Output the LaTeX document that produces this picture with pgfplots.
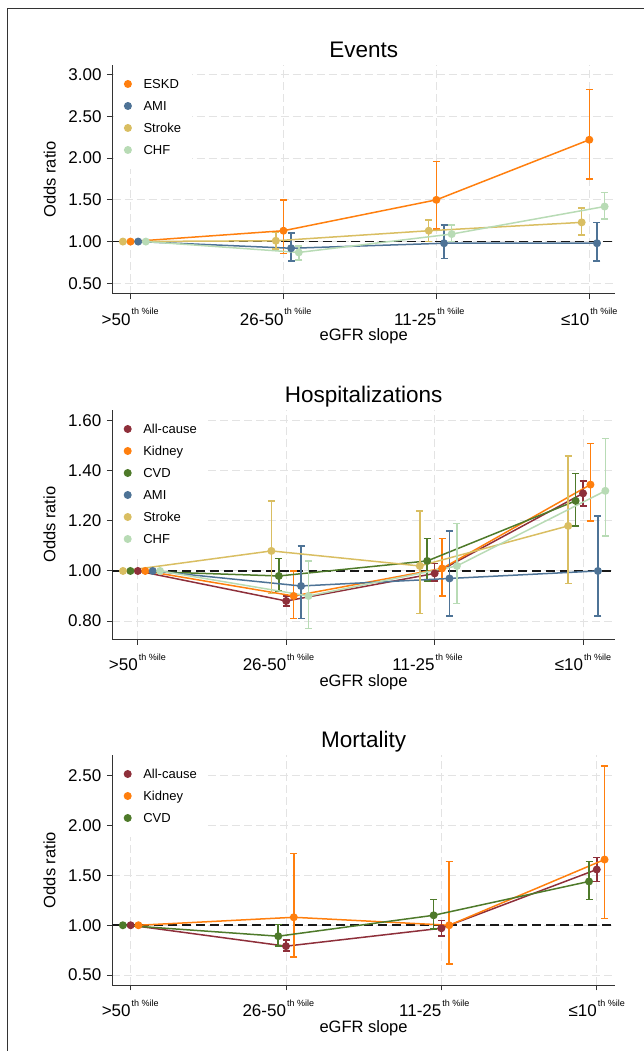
\documentclass[border=0pt]{standalone}
\usepackage{fontspec}
\setmainfont{Liberation Sans}
\usepackage{pgfplots}
\usepackage{pgfplotstable}
\pgfplotsset{compat=1.18}

\definecolor{cESKD}{HTML}{FF7F0E}
\definecolor{cAMI}{HTML}{4E7396}
\definecolor{cStroke}{HTML}{D9BE62}
\definecolor{cCHF}{HTML}{B8DBB5}
\definecolor{cAll}{HTML}{8E2F3A}
\definecolor{cCVD}{HTML}{4E7A2A}
\definecolor{gridc}{HTML}{E3E3E3}
\definecolor{axc}{HTML}{333333}

% x = category (+ dodge offset), y = odds ratio, lo/hi = 95% CI
\pgfplotstableread{
x y lo hi
0.00 1.00 1.00 1.00
1.00 1.13 0.86 1.50
2.00 1.50 1.15 1.96
3.00 2.22 1.75 2.82
}\evESKD
\pgfplotstableread{
x y lo hi
0.05 1.00 1.00 1.00
1.05 0.92 0.77 1.10
2.05 0.98 0.80 1.20
3.05 0.98 0.77 1.23
}\evAMI
\pgfplotstableread{
x y lo hi
-0.05 1.00 1.00 1.00
0.95 1.01 0.91 1.11
1.95 1.13 1.00 1.26
2.95 1.23 1.08 1.40
}\evStroke
\pgfplotstableread{
x y lo hi
0.10 1.00 1.00 1.00
1.10 0.87 0.78 0.95
2.10 1.09 1.00 1.20
3.10 1.42 1.27 1.59
}\evCHF

\pgfplotstableread{
x y lo hi
0.00 1.00 1.00 1.00
1.00 0.88 0.86 0.90
2.00 0.99 0.96 1.03
3.00 1.31 1.26 1.36
}\hoAll
\pgfplotstableread{
x y lo hi
0.05 1.00 1.00 1.00
1.05 0.90 0.81 1.00
2.05 1.01 0.90 1.13
3.05 1.345 1.20 1.51
}\hoKid
\pgfplotstableread{
x y lo hi
-0.05 1.00 1.00 1.00
0.95 0.98 0.92 1.05
1.95 1.04 0.96 1.13
2.95 1.28 1.18 1.39
}\hoCVD
\pgfplotstableread{
x y lo hi
0.10 1.00 1.00 1.00
1.10 0.94 0.81 1.10
2.10 0.97 0.82 1.16
3.10 1.00 0.82 1.22
}\hoAMI
\pgfplotstableread{
x y lo hi
-0.10 1.00 1.00 1.00
0.90 1.08 0.91 1.28
1.90 1.02 0.83 1.24
2.90 1.18 0.95 1.46
}\hoStroke
\pgfplotstableread{
x y lo hi
0.15 1.00 1.00 1.00
1.15 0.90 0.77 1.04
2.15 1.02 0.87 1.19
3.15 1.32 1.14 1.53
}\hoCHF

\pgfplotstableread{
x y lo hi
0.00 1.00 1.00 1.00
1.00 0.79 0.74 0.85
2.00 0.97 0.89 1.05
3.00 1.56 1.44 1.68
}\moAll
\pgfplotstableread{
x y lo hi
0.05 1.00 1.00 1.00
1.05 1.08 0.68 1.72
2.05 1.00 0.61 1.64
3.05 1.66 1.07 2.60
}\moKid
\pgfplotstableread{
x y lo hi
-0.05 1.00 1.00 1.00
0.95 0.89 0.79 1.01
1.95 1.10 0.96 1.26
2.95 1.44 1.26 1.64
}\moCVD

\newcommand{\xl}[1]{\llap{#1}\rlap{\kern1pt\raisebox{10.5pt}{\fontsize{9}{9}\selectfont th \%ile}}}

% error bars (no bar at the reference category), then line with markers
\newcommand{\series}[3]{%
  \addplot[forget plot, #1, only marks, mark=none, skip coords between index={0}{1},
    error bars/.cd, y dir=both, y explicit, error mark=-,
    error bar style={#1, line width=1.5pt, solid},
    error mark options={rotate=90, #1, mark size=3.5pt, line width=1.5pt}]
    table[x=x, y=y, y error plus expr=\thisrow{hi}-\thisrow{y},
          y error minus expr=\thisrow{y}-\thisrow{lo}] {#2};
  \addplot[#1, line width=1.5pt, mark=*, mark size=3.2pt, mark options={solid}]
    table[x=x, y=y] {#2};
  \addlegendentry{#3}
}

\pgfplotsset{
  panel/.style={
    scale only axis,
    width=502.5pt,
    axis x line*=bottom, axis y line*=left,
    axis line style={axc, line width=1pt},
    tick align=outside, major tick length=5.5pt,
    tick style={axc, line width=1pt},
    xtick={0,1,2,3},
    xticklabels={\xl{>50},\xl{26-50},\xl{11-25},\xl{≤10}},
    grid=major,
    major grid style={gridc, line width=1pt, dash pattern=on 8pt off 4pt},
    tick label style={font=\fontsize{17}{17}\selectfont},
    /pgf/number format/assume math mode=true,
    yticklabel={\pgfmathprintnumber[assume math mode=true, fixed, fixed zerofill, precision=2]{\tick}},
    yticklabel style={xshift=-2pt},
    xticklabel style={anchor=base, yshift=-26pt},
    label style={font=\fontsize{16.5}{16.5}\selectfont},
    xlabel={eGFR slope}, ylabel={Odds ratio},
    xlabel style={at={(axis description cs:0.5,0)}, anchor=base, yshift=-47pt},
    ylabel style={at={(axis description cs:-0.1134,0.5)}, anchor=base},
    title style={font=\fontsize{22.5}{22.5}\selectfont, at={(axis description cs:0.5,1)}, anchor=base, yshift=1pt},
    legend style={at={(axis description cs:0,1)}, anchor=north west, xshift=1pt,
      draw=none, fill=white, inner xsep=11.2pt, inner ysep=12.35pt, outer sep=0pt,
      row sep=8.7pt, font=\fontsize{13}{13}\selectfont,
      nodes={inner sep=0pt, text height=11.3pt, text depth=2pt},
      /tikz/every odd column/.style={column sep=12.4pt}},
    legend cell align=left,
    legend image code/.code={\draw[##1] plot coordinates {(0pt,0pt)};},
  },
}

\begin{document}
\begin{tikzpicture}
\useasboundingbox (0pt,0pt) rectangle (644pt,1051pt);
\draw[axc, line width=1.2pt] (7.4pt,0pt) -- (7.4pt,1042.7pt) -- (644pt,1042.7pt);

\begin{axis}[panel, at={(112.5pt,757pt)}, anchor=south west, height=229pt,
  title={Events},
  xmin=-0.118, xmax=3.168, ymin=0.372, ymax=3.116,
  ytick={0.5,1,1.5,2,2.5,3}]
\addplot[forget plot, black!90, line width=1.6pt, dash pattern=on 9pt off 5pt] coordinates {(-0.118,1) (3.168,1)};
\series{cESKD}{\evESKD}{ESKD}
\series{cAMI}{\evAMI}{AMI}
\series{cStroke}{\evStroke}{Stroke}
\series{cCHF}{\evCHF}{CHF}
\end{axis}

\begin{axis}[panel, at={(112.3pt,411.7pt)}, anchor=south west, height=229.3pt,
  title={Hospitalizations},
  xmin=-0.172, xmax=3.214, ymin=0.727, ymax=1.643,
  ytick={0.8,1.0,1.2,1.4,1.6}]
\addplot[forget plot, black!90, line width=1.6pt, dash pattern=on 9pt off 5pt] coordinates {(-0.172,1) (3.214,1)};
\series{cAll}{\hoAll}{All-cause}
\series{cESKD}{\hoKid}{Kidney}
\series{cCVD}{\hoCVD}{CVD}
\series{cAMI}{\hoAMI}{AMI}
\series{cStroke}{\hoStroke}{Stroke}
\series{cCHF}{\hoCHF}{CHF}
\end{axis}

\begin{axis}[panel, at={(112.3pt,66pt)}, anchor=south west, height=230pt,
  title={Mortality},
  xmin=-0.118, xmax=3.116, ymin=0.40, ymax=2.71,
  ytick={0.5,1,1.5,2,2.5}]
\addplot[forget plot, black!90, line width=1.6pt, dash pattern=on 9pt off 5pt] coordinates {(-0.118,1) (3.116,1)};
\series{cAll}{\moAll}{All-cause}
\series{cESKD}{\moKid}{Kidney}
\series{cCVD}{\moCVD}{CVD}
\end{axis}
\end{tikzpicture}
\end{document}
